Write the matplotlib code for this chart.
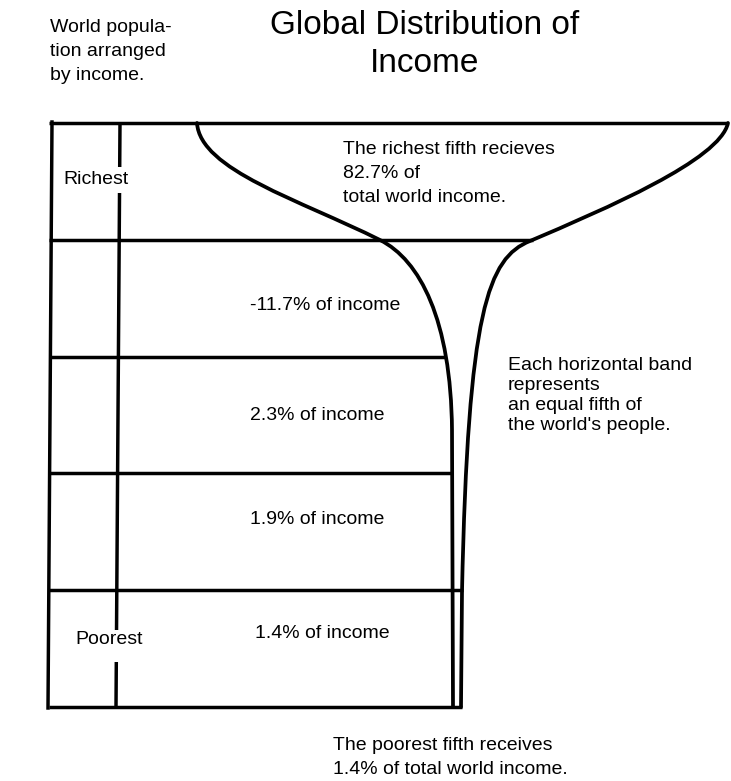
import numpy as np
import matplotlib
matplotlib.use("Agg")
import matplotlib.pyplot as plt
from matplotlib.path import Path
from matplotlib.patches import PathPatch

plt.rcParams['font.family'] = ['Liberation Sans', 'DejaVu Sans']

# ---- data ----
title_lines = ["Global Distribution of", "Income"]
side_note = ["World popula-", "tion arranged", "by income."]
fifth_labels = ["Richest", "", "", "", "Poorest"]
income_share = [82.7, -11.7, 2.3, 1.9, 1.4]   # % of world income as printed
richest_note = ["The richest fifth recieves", "82.7% of", "total world income."]
band_note = ["Each horizontal band", "represents", "an equal fifth of", "the world's people."]
poorest_note = ["The poorest fifth receives", "1.4% of total world income."]

# glass outline: bezier control points
glass_left_x = [197, 200, 300, 380, 420, 451, 452, 453]
glass_left_y = [123, 170, 200, 240, 260, 320, 430, 707]
glass_right_x = [728, 720, 605, 530, 488, 468, 462, 461]
glass_right_y = [123, 160, 209, 241, 258, 310, 592, 707]

fig = plt.figure(figsize=(7.31, 7.81), dpi=100)
ax = fig.add_axes([0, 0, 1, 1])
ax.set_xlim(0, 731)
ax.set_ylim(781, 0)
ax.axis('off')

lw = 2.5
top, bottom = 123, 707
n = len(income_share)
edges = np.linspace(top, bottom, n + 1)


def bez_path(xs, ys, ncurve):
    verts = list(zip(xs, ys))
    codes = [Path.MOVETO] + [Path.CURVE4] * (3 * ncurve) + [Path.LINETO] * (len(verts) - 1 - 3 * ncurve)
    return Path(verts, codes)


pL = bez_path(glass_left_x, glass_left_y, 2)
pR = bez_path(glass_right_x, glass_right_y, 2)
for p in (pL, pR):
    ax.add_patch(PathPatch(p, facecolor='none', edgecolor='black', lw=2.7, capstyle='round'))

L = np.vstack(pL.to_polygons(closed_only=False))
R = np.vstack(pR.to_polygons(closed_only=False))


def x_at(curve, y):
    order = np.argsort(curve[:, 1])
    return np.interp(y, curve[order, 1], curve[order, 0])

# horizontal band lines
left_edge = 50
for i, y in enumerate(edges):
    if i == 0:
        xe = glass_right_x[0]
    elif i == 1:
        xe = x_at(R, y)
    elif i in (2, 3):
        xe = x_at(L, y)
    else:
        xe = x_at(R, y) + 1
    ax.plot([left_edge - 1, xe], [y, y], color='black', lw=lw, solid_capstyle='butt')

# outer left edge
ax.plot([52, 48], [top - 1, bottom + 1], color='black', lw=lw)
# inner vertical with gaps for labels
for y0, y1 in [(top, 167), (193, 630), (662, bottom)]:
    ax.plot([120 - 4 * (y0 - top) / (bottom - top), 120 - 4 * (y1 - top) / (bottom - top)],
            [y0, y1], color='black', lw=lw, solid_capstyle='butt')

fs = 14
ax.text(63, 179, fifth_labels[0], fontsize=fs, va='center', ha='left')
ax.text(75, 640, fifth_labels[-1], fontsize=fs, va='center', ha='left')

label_y = [None, 305, 416, 519, 633]
label_x = [None, 250, 250, 250, 255]
for i in range(1, n):
    v = income_share[i]
    ax.text(label_x[i], label_y[i], f"{v}% of income", fontsize=fs, va='center', ha='left')

for txt, y in zip(richest_note, [150, 174, 198]):
    ax.text(343, y, txt, fontsize=fs, va='center', ha='left')

for txt, y in zip(band_note, [366, 386, 406, 425]):
    ax.text(508, y, txt, fontsize=fs, va='center', ha='left')

for txt, y in zip(poorest_note, [746, 769]):
    ax.text(333, y, txt, fontsize=fs, va='center', ha='left')

for txt, y in zip(side_note, [28, 52, 76]):
    ax.text(50, y, txt, fontsize=14, va='center', ha='left')

for txt, y in zip(title_lines, [26, 63]):
    ax.text(425, y, txt, fontsize=24, va='center', ha='center')

fig.savefig("out.png", dpi=100)
